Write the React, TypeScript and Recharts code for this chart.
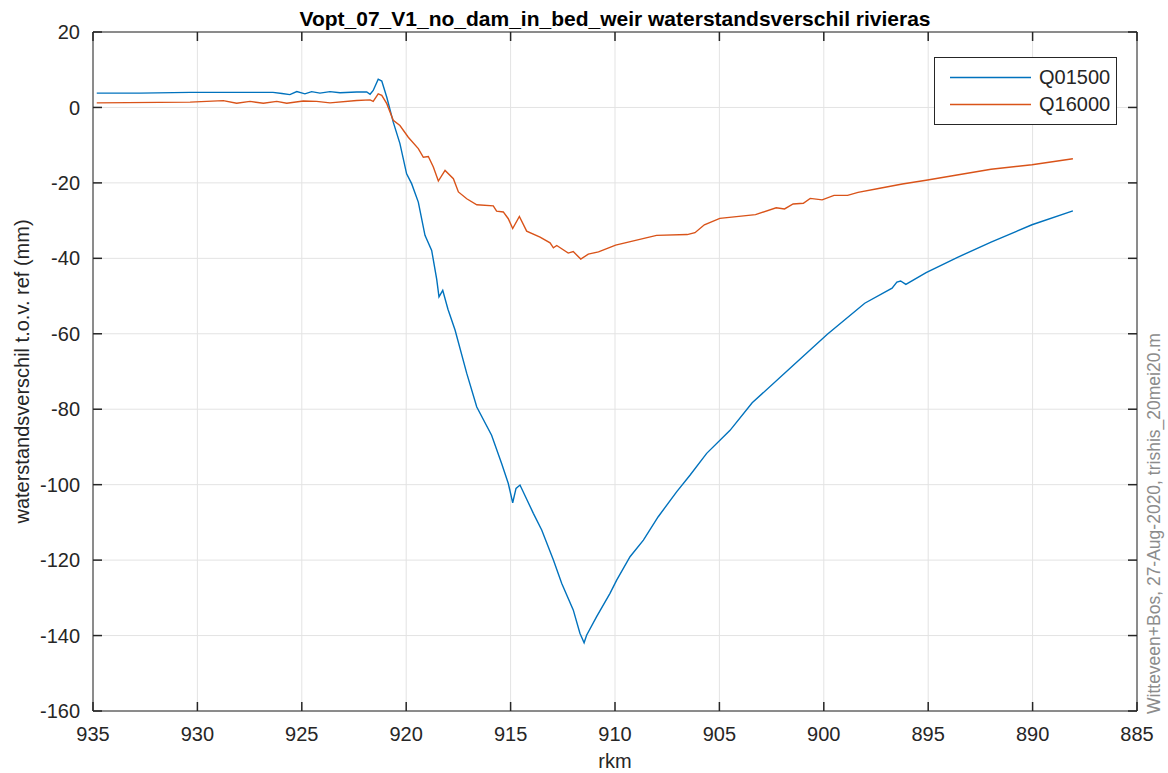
import React from 'react';
import { LineChart, Line, XAxis, YAxis, CartesianGrid, Legend, Label, ReferenceLine } from 'recharts';

const TITLE = 'Vopt_07_V1_no_dam_in_bed_weir waterstandsverschil rivieras';
const X_LABEL = 'rkm';
const Y_LABEL = 'waterstandsverschil t.o.v. ref (mm)';
const STAMP = 'Witteveen+Bos, 27-Aug-2020, trishis_20mei20.m';

const X_DOMAIN = [885, 935];
const Y_DOMAIN = [-160, 20];
const X_TICKS = [935, 930, 925, 920, 915, 910, 905, 900, 895, 890, 885];
const Y_TICKS = [20, 0, -20, -40, -60, -80, -100, -120, -140, -160];

const Q01500_KM = [
  934.82, 932.75, 930.35, 928.44, 926.38, 925.95, 925.57, 925.24, 924.85, 924.53, 924.13, 923.65, 923.17,
  922.37, 921.89, 921.73, 921.58, 921.34, 921.17, 920.93, 920.62, 920.3, 919.98, 919.74, 919.42, 919.1,
  918.78, 918.54, 918.43, 918.25, 918.0, 917.66, 917.1, 916.62, 915.91, 915.43, 915.11, 914.9, 914.74,
  914.55, 913.91, 913.51, 912.95, 912.55, 912.0, 911.68, 911.48, 911.36, 910.88, 910.24, 909.92, 909.28,
  908.64, 907.93, 907.05, 906.41, 905.61, 904.49, 903.43, 901.63, 899.83, 898.04, 896.73, 896.5, 896.32,
  896.07, 895.1, 893.62, 891.99, 890.03, 888.07,
];
const Q01500_VAL = [
  3.8, 3.8, 4.0, 4.0, 4.0, 3.7, 3.4, 4.2, 3.6, 4.2, 3.8, 4.2, 3.9,
  4.1, 4.1, 3.5, 4.5, 7.5, 7.0, 2.7, -3.9, -9.6, -17.6, -20.2, -25.1, -33.9,
  -37.9, -45.5, -50.2, -48.5, -53.5, -59, -70.5, -79.4, -86.9, -94.4, -99.7, -104.8, -101.0,
  -100.1, -107.6, -112, -120, -126.2, -133.2, -139.4, -141.9, -139.9, -135, -128.8, -125.3, -119.1,
  -114.7, -108.5, -101.9, -97.5, -91.7, -85.6, -78.3, -69.2, -60.1, -51.9, -47.9, -46.3, -46.0,
  -46.9, -43.8, -39.8, -35.7, -31.1, -27.4,
];

const Q16000_KM = [
  934.82, 930.35, 928.76, 928.12, 927.48, 926.84, 926.2, 925.72, 924.93, 924.29, 923.65, 922.37, 921.73,
  921.58, 921.34, 921.17, 920.93, 920.62, 920.3, 919.9, 919.42, 919.18, 918.94, 918.7, 918.46, 918.14,
  917.74, 917.5, 917.1, 916.62, 915.83, 915.67, 915.35, 915.11, 914.9, 914.58, 914.23, 913.59, 913.11,
  912.95, 912.79, 912.24, 912.0, 911.64, 911.28, 910.79, 909.97, 908.01, 906.54, 906.17, 905.72, 904.98,
  903.27, 902.28, 901.88, 901.47, 900.98, 900.65, 900.08, 899.51, 898.86, 898.36, 897.38, 896.24, 895.1,
  893.62, 891.99, 890.03, 888.07,
];
const Q16000_VAL = [
  1.2, 1.4, 1.8, 1.1, 1.6, 1.1, 1.6, 1.1, 1.7, 1.6, 1.2, 1.85, 2.0,
  1.6, 3.6, 3.2, 1.0, -3.4, -4.8, -7.9, -10.9, -13.2, -13.0, -15.8, -19.5, -16.7,
  -18.9, -22.4, -24.2, -25.8, -26.1, -27.5, -27.7, -29.5, -32.1, -28.9, -32.8, -34.4, -35.9,
  -37.2, -36.6, -38.6, -38.2, -40.2, -38.9, -38.3, -36.5, -33.9, -33.7, -33.2, -31.1, -29.4,
  -28.4, -26.6, -26.9, -25.6, -25.4, -24.1, -24.5, -23.3, -23.3, -22.5, -21.5, -20.3, -19.3,
  -17.9, -16.4, -15.2, -13.6,
];

const SERIES = [
  { name: 'Q01500', color: '#0072BD', km: Q01500_KM, val: Q01500_VAL },
  { name: 'Q16000', color: '#D95319', km: Q16000_KM, val: Q16000_VAL },
];

const FONT = '"Liberation Sans", Arial, Helvetica, sans-serif';
const AXIS_COLOR = '#262626';

// chart geometry
const CHART_W = 1168;
const CHART_H = 773;
const M_TOP = 31;
const TOP_AXIS_H = 1;
const BOTTOM_AXIS_H = 62;
const LEFT_AXIS_W = 93;
const RIGHT_AXIS_W = 31;
const PLOT_W = CHART_W - LEFT_AXIS_W - RIGHT_AXIS_W;
const PLOT_H = CHART_H - M_TOP - TOP_AXIS_H - BOTTOM_AXIS_H;

// inward tick length (px), converted to data units for each axis
const TICK_LEN = 9;
const X_TICK_LEN = (TICK_LEN * (X_DOMAIN[1] - X_DOMAIN[0])) / PLOT_W;
const Y_TICK_LEN = (TICK_LEN * (Y_DOMAIN[1] - Y_DOMAIN[0])) / PLOT_H;

const BOTTOM_GAP = 16;
const LEFT_GAP = 13;

const BottomTick = (props: any) => {
  const { x, y, payload } = props;
  return (
    <text x={x} y={y} dy="0.71em" textAnchor="middle" fill={AXIS_COLOR} fontSize={20} fontFamily={FONT}>
      {payload.value}
    </text>
  );
};

const LeftTick = (props: any) => {
  const { x, y, payload } = props;
  return (
    <text x={x} y={y} dy="0.355em" textAnchor="end" fill={AXIS_COLOR} fontSize={20} fontFamily={FONT}>
      {payload.value}
    </text>
  );
};

const LegendContent = (props: any) => {
  const payload = props.payload || [];
  return (
    <div
      style={{
        boxSizing: 'border-box',
        width: 183,
        height: 68,
        border: `1px solid ${AXIS_COLOR}`,
        background: '#fff',
        paddingTop: 6,
        fontFamily: FONT,
      }}
    >
      {payload.map((p: any) => (
        <div key={p.value} style={{ display: 'flex', alignItems: 'center', height: 27 }}>
          <svg width={104} height={27} style={{ display: 'block' }}>
            <line x1={15} x2={96} y1={13.5} y2={13.5} stroke={p.color} strokeWidth={1.5} />
          </svg>
          <span style={{ fontSize: 20, color: AXIS_COLOR, lineHeight: '27px' }}>{p.value}</span>
        </div>
      ))}
    </div>
  );
};

const StampLabel = (props: any) => {
  const vb = props.viewBox || {};
  const x = (vb.x || 0) + 23;
  const y = (vb.y || 0) + (vb.height || 0) + 3;
  return (
    <text
      x={x}
      y={y}
      transform={`rotate(-90 ${x} ${y})`}
      fontSize={17.5}
      fill="#8c8c8c"
      fontFamily={FONT}
      textAnchor="start"
    >
      {STAMP}
    </text>
  );
};

export default function App() {
  const tickSegments: { key: string; seg: { x: number; y: number }[] }[] = [];
  X_TICKS.forEach((t) => {
    tickSegments.push({ key: `b${t}`, seg: [{ x: t, y: Y_DOMAIN[0] }, { x: t, y: Y_DOMAIN[0] + Y_TICK_LEN }] });
    tickSegments.push({ key: `t${t}`, seg: [{ x: t, y: Y_DOMAIN[1] }, { x: t, y: Y_DOMAIN[1] - Y_TICK_LEN }] });
  });
  Y_TICKS.forEach((t) => {
    tickSegments.push({ key: `l${t}`, seg: [{ x: X_DOMAIN[1], y: t }, { x: X_DOMAIN[1] - X_TICK_LEN, y: t }] });
    tickSegments.push({ key: `r${t}`, seg: [{ x: X_DOMAIN[0], y: t }, { x: X_DOMAIN[0] + X_TICK_LEN, y: t }] });
  });

  return (
    <div style={{ position: 'absolute', left: 0, top: 0, width: CHART_W, height: CHART_H, background: '#fff', fontFamily: FONT }}>
      <LineChart width={CHART_W} height={CHART_H} margin={{ top: M_TOP, right: 0, bottom: 0, left: 0 }}>
        <CartesianGrid xAxisId="b" yAxisId="l" stroke="#e3e3e3" strokeWidth={1} />
        <XAxis
          xAxisId="b"
          dataKey="km"
          type="number"
          domain={X_DOMAIN}
          reversed
          ticks={X_TICKS}
          allowDataOverflow
          height={BOTTOM_AXIS_H}
          tickSize={0}
          tickMargin={BOTTOM_GAP}
          tickLine={false}
          stroke={AXIS_COLOR}
          tick={<BottomTick />}
          interval={0}
        >
          <Label value={X_LABEL} position="insideBottom" offset={5} style={{ fill: AXIS_COLOR, fontSize: 20 }} />
        </XAxis>
        <XAxis
          xAxisId="t"
          orientation="top"
          type="number"
          domain={X_DOMAIN}
          reversed
          ticks={X_TICKS}
          allowDataOverflow
          height={TOP_AXIS_H}
          tickLine={false}
          tick={false}
          stroke={AXIS_COLOR}
        >
          <Label value={TITLE} position="top" offset={5} style={{ fill: '#000', fontSize: 21, fontWeight: 'bold' }} />
        </XAxis>
        <YAxis
          yAxisId="l"
          type="number"
          domain={Y_DOMAIN}
          ticks={Y_TICKS}
          allowDataOverflow
          width={LEFT_AXIS_W}
          tickSize={0}
          tickMargin={LEFT_GAP}
          tickLine={false}
          stroke={AXIS_COLOR}
          tick={<LeftTick />}
          interval={0}
        >
          <Label
            value={Y_LABEL}
            angle={-90}
            position="insideLeft"
            offset={22}
            style={{ fill: AXIS_COLOR, fontSize: 20, textAnchor: 'middle' }}
          />
        </YAxis>
        <YAxis
          yAxisId="r"
          orientation="right"
          type="number"
          domain={Y_DOMAIN}
          ticks={Y_TICKS}
          allowDataOverflow
          width={RIGHT_AXIS_W}
          tickLine={false}
          tick={false}
          stroke={AXIS_COLOR}
        >
          <Label content={<StampLabel />} />
        </YAxis>
        {tickSegments.map((t) => (
          <ReferenceLine
            key={t.key}
            xAxisId="b"
            yAxisId="l"
            segment={t.seg}
            stroke={AXIS_COLOR}
            strokeWidth={1.5}
            ifOverflow="visible"
          />
        ))}
        <Legend
          layout="horizontal"
          verticalAlign="middle"
          align="center"
          content={<LegendContent />}
          wrapperStyle={{ position: 'absolute', left: 934, top: 57, width: 183, height: 68 }}
        />
        {SERIES.map((s) => (
          <Line
            key={s.name}
            xAxisId="b"
            yAxisId="l"
            name={s.name}
            data={s.km.map((k, i) => ({ km: k, v: s.val[i] }))}
            dataKey="v"
            stroke={s.color}
            strokeWidth={1.4}
            dot={false}
            activeDot={false}
            isAnimationActive={false}
          />
        ))}
      </LineChart>
    </div>
  );
}
